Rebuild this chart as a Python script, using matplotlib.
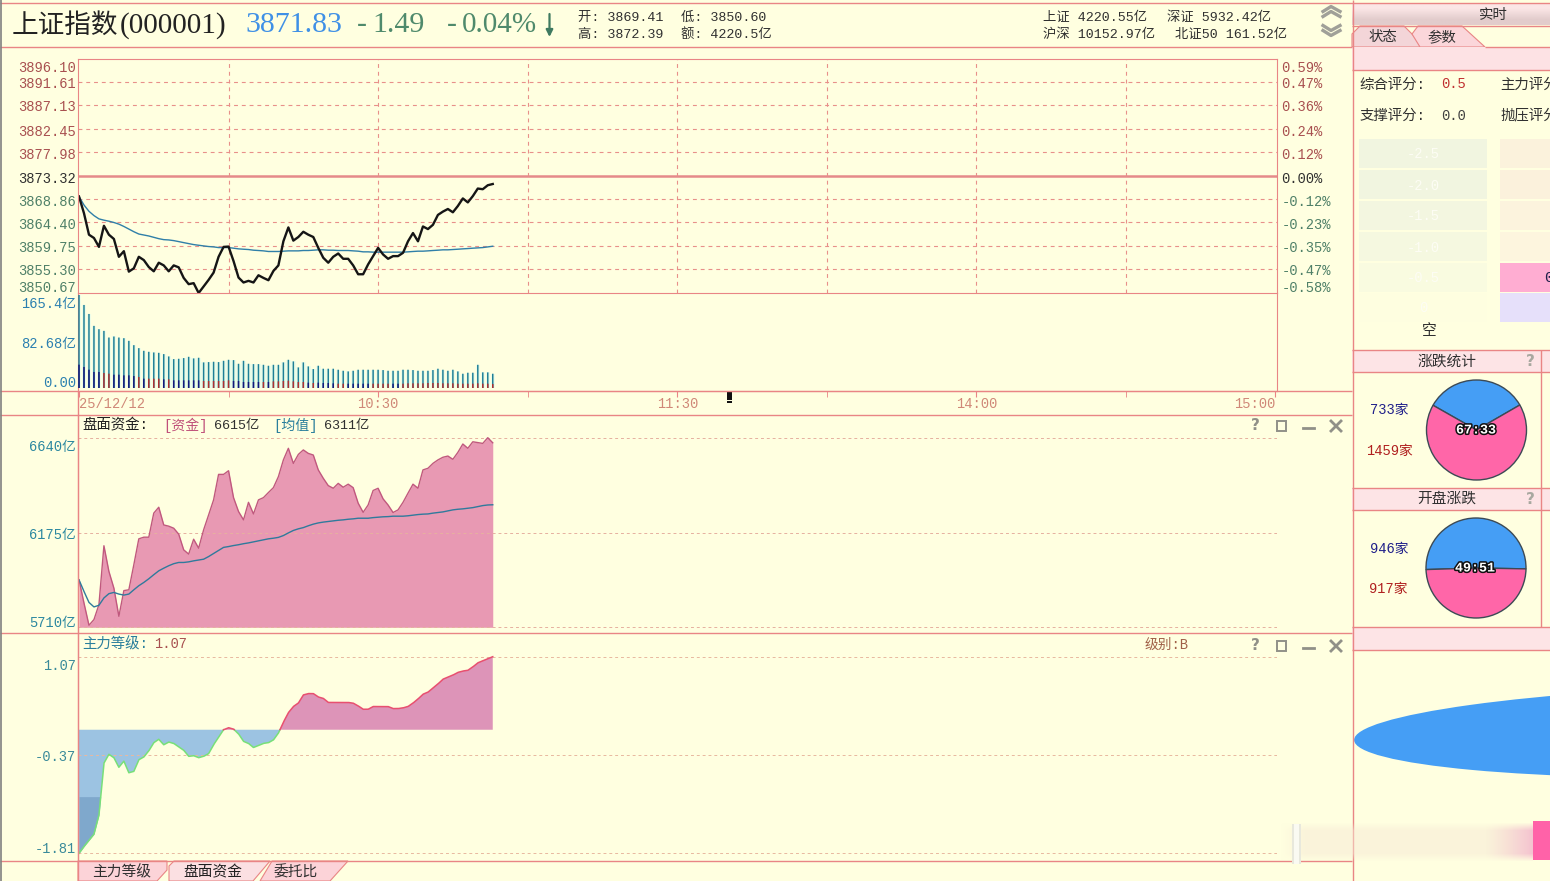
import numpy as np
import matplotlib
matplotlib.use("Agg")
import matplotlib.pyplot as plt
from matplotlib.patches import Rectangle, Polygon, Ellipse
from matplotlib.transforms import ScaledTranslation
import matplotlib.patheffects as pe

plt.rcParams['font.family'] = ['Liberation Mono', 'Noto Sans CJK SC', 'DejaVu Sans']
plt.rcParams['axes.unicode_minus'] = False

# ---------------- data ----------------
price = [3869.41,3866.15,3861.99,3861.35,3859.62,3863.72,3861.99,3861.16,3857.70,3858.79,
         3854.82,3855.46,3857.70,3857.06,3855.71,3854.88,3856.55,3856.03,3854.88,3856.03,
         3855.65,3853.60,3852.39,3852.58,3850.67,3851.94,3853.22,3854.63,3857.70,3859.62,
         3859.68,3856.87,3853.67,3852.71,3853.03,3852.71,3854.11,3853.60,3853.15,3854.95,
         3856.03,3860.71,3863.40,3860.84,3861.54,3862.56,3861.99,3861.54,3859.43,3857.51,
         3856.55,3857.70,3858.34,3857.31,3857.31,3856.03,3854.31,3854.31,3856.23,3857.83,
         3859.43,3858.15,3857.31,3857.83,3857.83,3858.47,3860.71,3862.31,3860.71,3863.59,
         3863.08,3863.91,3865.83,3866.47,3866.98,3866.34,3867.56,3869.03,3868.26,3869.48,
         3870.95,3870.82,3871.59,3871.83]
price_avg = [3869.41,3867.75,3866.53,3865.70,3865.06,3864.81,3864.61,3864.36,3864.04,3863.59,
             3863.08,3862.57,3862.12,3861.93,3861.74,3861.48,3861.22,3861.03,3860.97,3860.84,
             3860.65,3860.45,3860.26,3860.07,3859.94,3859.81,3859.69,3859.62,3859.49,3859.49,
             3859.49,3859.37,3859.24,3859.17,3859.11,3858.98,3858.92,3858.85,3858.73,3858.73,
             3858.73,3858.79,3858.85,3858.85,3858.85,3858.92,3858.92,3858.98,3859.05,3859.05,
             3858.98,3858.98,3858.92,3858.92,3858.92,3858.85,3858.79,3858.66,3858.66,3858.60,
             3858.60,3858.60,3858.60,3858.60,3858.60,3858.60,3858.66,3858.73,3858.79,3858.79,
             3858.85,3858.92,3858.98,3859.05,3859.05,3859.11,3859.17,3859.24,3859.30,3859.37,
             3859.43,3859.49,3859.62,3859.75]
volume = [165.4,147.7,131.7,110.5,104.6,101.6,89.8,91.6,89.8,88.6,83.9,76.2,70.9,66.2,64.4,63.2,
          62.6,60.3,56.1,51.4,52.0,53.2,55.5,52.6,53.8,45.5,46.1,46.7,46.1,48.4,50.2,49.6,43.1,
          48.4,43.1,42.5,42.5,41.3,39.6,41.3,41.3,45.5,50.2,47.3,36.6,45.5,38.4,33.7,39.6,34.3,
          34.3,34.3,32.5,30.7,29.5,30.7,32.5,32.5,32.5,32.5,32.5,31.9,30.7,30.7,30.7,32.5,32.5,
          31.9,30.7,30.7,30.7,31.9,34.3,32.5,30.7,32.5,29.5,25.4,27.2,27.2,41.3,27.8,27.8,25.4]
volume_low = [41.5,37.4,32.6,28.5,28.5,26.7,25.5,23.7,23.7,22.5,22.5,21.3,19.6,16.6,16.6,16.6,
              16.6,15.4,15.4,13.6,13.6,13.6,13.6,13.6,13.6,12.5,12.5,12.5,12.5,12.5,13.6,12.5,
              12.5,10.7,10.7,10.7,10.7,10.7,10.7,11.8,11.8,12.5,13.0,11.8,10.7,10.7,9.5,8.9,9.5,
              8.9,8.9,8.3,7.7,7.7,7.7,7.7,7.7,7.7,7.7,7.7,7.7,7.7,7.7,7.7,7.7,7.7,8.3,8.3,8.3,8.3,
              8.9,8.9,8.9,8.3,8.3,8.3,7.7,7.7,7.7,7.7,8.3,7.7,7.7,7.1]
volume_low_up = [0,0,0,0,0,1,1,0,0,0,0,0,1,0,1,1,1,0,1,0,0,0,0,0,0,1,1,1,1,1,1,0,0,0,0,0,0,1,0,1,
                 1,1,1,1,1,1,0,1,0,0,0,0,1,1,0,0,0,0,0,1,1,1,1,0,0,1,1,1,1,1,1,1,1,1,1,1,1,1,1,1,
                 1,1,1,1]
funds = [5943,5829,5720,5748,5821,6110,5984,5902,5764,5890,5894,6017,6144,6152,6152,6270,6299,
         6212,6206,6196,6167,6090,6069,6142,6098,6188,6261,6335,6460,6460,6478,6346,6278,6237,
         6323,6266,6335,6346,6371,6395,6449,6531,6588,6514,6558,6580,6563,6555,6482,6441,6405,
         6392,6416,6397,6412,6395,6319,6274,6310,6381,6392,6340,6310,6273,6286,6323,6368,6412,
         6392,6482,6490,6514,6531,6544,6550,6534,6568,6609,6588,6620,6616,6612,6640,6615]
funds_avg = [5943,5886,5832,5810,5818,5854,5875,5881,5873,5868,5873,5894,5914,5930,5948,5968,
             5987,6000,6012,6022,6028,6028,6031,6036,6040,6044,6057,6072,6087,6102,6106,6111,
             6115,6120,6124,6129,6134,6139,6144,6147,6151,6160,6173,6185,6193,6199,6208,6216,
             6222,6226,6229,6232,6235,6237,6240,6242,6245,6245,6245,6248,6250,6252,6253,6255,
             6255,6255,6257,6260,6263,6265,6266,6270,6273,6276,6281,6286,6289,6291,6294,6297,
             6302,6307,6310,6311]
level = [-1.81,-1.71,-1.62,-1.53,-1.25,-0.49,-0.36,-0.41,-0.55,-0.46,-0.63,-0.61,-0.44,-0.40,
         -0.31,-0.19,-0.14,-0.22,-0.18,-0.20,-0.25,-0.30,-0.39,-0.38,-0.41,-0.39,-0.35,-0.22,
         -0.11,-0.00,0.03,0.01,-0.06,-0.17,-0.20,-0.26,-0.23,-0.20,-0.19,-0.15,-0.05,0.11,0.25,
         0.34,0.39,0.51,0.53,0.53,0.48,0.46,0.40,0.40,0.40,0.40,0.40,0.39,0.35,0.30,0.30,0.34,
         0.34,0.34,0.34,0.31,0.31,0.32,0.34,0.39,0.45,0.52,0.55,0.61,0.67,0.74,0.77,0.80,0.84,
         0.86,0.87,0.92,0.98,1.01,1.04,1.07]
level_band = -0.98

price_ticks = [3896.10,3891.61,3887.13,3882.45,3877.98,3873.32,3868.86,3864.40,3859.75,3855.30,3850.67]
pct_labels = ['0.59%','0.47%','0.36%','0.24%','0.12%','0.00%','-0.12%','-0.23%','-0.35%','-0.47%','-0.58%']
vol_ticks = [0.0,82.68,165.4]
vol_labels = ['0.00','82.68亿','165.4亿']
fund_ticks = [5710,6175,6640]
fund_labels = ['5710亿','6175亿','6640亿']
level_ticks = [-1.81,-0.37,1.07]
level_labels = ['-1.81','-0.37','1.07']
time_ticks = [0,60,120,180,240]
time_labels = ['25/12/12','10:30','11:30','14:00','15:00']
adv_dec = [733,1459]
open_adv_dec = [946,917]

# ---------------- layout helpers ----------------
W, H = 1550, 881
BG = '#ffffe0'
LINE = '#e98585'
fig = plt.figure(figsize=(W/100, H/100), dpi=100, facecolor=BG)

def px_axes(l, t, r, b, z=2):
    a = fig.add_axes([l/W, 1-b/H, (r-l)/W, (b-t)/H], zorder=z)
    a.patch.set_visible(False)
    return a

def ylim_from(v1, y1, v2, y2, top, bottom):
    k = (v1-v2)/(y2-y1)
    return v2-(bottom-y2)*k, v1+(y1-top)*k

X0, X1 = 78, 1277
xs = np.arange(len(price))
xlim = ((X0-79)/4.985, (X1-79)/4.985)
RED, GRN = '#a85050', '#4f8068'
FS = 9.9
SHIFT = ScaledTranslation(0, -1.6/72, fig.dpi_scale_trans)

def shift_labels(a, which='y'):
    labels = a.get_yticklabels() if which == 'y' else a.get_xticklabels()
    for t in labels:
        t.set_transform(t.get_transform()+SHIFT)

def style(a, ticks, labels, cols, vas=None, spines=()):
    a.set_xlim(*xlim)
    for s in a.spines:
        a.spines[s].set_visible(s in spines)
        a.spines[s].set_color(LINE)
    a.set_xticks([])
    a.set_yticks(ticks)
    a.set_yticklabels(labels, fontsize=FS)
    a.tick_params(axis='y', length=0, pad=1.5)
    for i, t in enumerate(a.get_yticklabels()):
        t.set_color(cols[i])
        if vas:
            t.set_va(vas[i])
    shift_labels(a)

# ---------------- price panel ----------------
ax = px_axes(X0, 59, X1, 293)
ax.set_ylim(*ylim_from(price_ticks[0], 58.6, price_ticks[-1], 293, 59, 293))
cols = [RED]*5+['#303030']+[GRN]*5
style(ax, price_ticks, ['%.2f' % v for v in price_ticks], cols,
      ['top']+['center']*9+['bottom'], ('left','right','top','bottom'))
ax.hlines(price_ticks[1:5]+price_ticks[6:10], *xlim, color='#e8908a', lw=0.8, linestyles=(0,(3.5,3.5)))
ax.axhline(price_ticks[5], color='#e58a8a', lw=1.8)
ax.vlines([30,60,90,120,150,180,210], ax.get_ylim()[0], ax.get_ylim()[1], color='#e8908a', lw=0.8, linestyles=(0,(3.5,3.5)))
ax.plot(xs, price_avg, color='#2f7fa8', lw=1.0)
ax.plot(xs, price, color='#151515', lw=1.7, clip_on=True)
axr = ax.twinx()
axr.patch.set_visible(False)
axr.set_ylim(ax.get_ylim())
for s in axr.spines:
    axr.spines[s].set_visible(False)
axr.set_yticks(price_ticks)
axr.set_yticklabels(pct_labels, fontsize=FS)
axr.tick_params(axis='y', length=0, pad=3.2)
for i, t in enumerate(axr.get_yticklabels()):
    t.set_color(cols[i])
    t.set_va((['top']+['center']*9+['bottom'])[i])
shift_labels(axr)

# ---------------- volume panel ----------------
av = px_axes(X0, 293, X1, 391)
k = 165.4/93
av.set_ylim(-3*k, 165.4+2*k)
style(av, vol_ticks, vol_labels, ['#2c80b0']*3, ['bottom','center','top'], ('left','right','bottom'))
vl = np.array(volume); vo = np.array(volume_low); up = np.array(volume_low_up, bool)
av.bar(xs, vl, width=0.9, color='#ecfce8', linewidth=0, zorder=1.5)
for arr, mask, col, z in [(vl, np.ones_like(up), '#1f7f96', 3), (vo, ~up, '#16167a', 3.1), (vo, up, '#b03030', 3.1)]:
    bc = av.bar(xs[mask.astype(bool)], arr[mask.astype(bool)], width=0.3, color=col, linewidth=0, zorder=z)
    for r in bc:
        r.set_snap(False)
av.set_xticks([30,90,150,210], minor=True)
av.tick_params(axis='x', which='minor', length=4, color=LINE, direction='out')
av.set_xticks(time_ticks)
av.set_xticklabels(time_labels, fontsize=FS, color='#d08878')
av.tick_params(axis='x', which='major', length=4, color=LINE, pad=0)
lbls = av.get_xticklabels()
lbls[0].set_ha('left'); lbls[-1].set_ha('right')

# ---------------- funds panel ----------------
af = px_axes(X0, 415, X1, 633)
af.set_ylim(*ylim_from(6640, 437.7, 5710, 627.3, 415, 633))
style(af, fund_ticks, fund_labels, ['#2c88a0']*3, ['bottom','center','top'], ('left',))
af.fill_between(xs, funds, 5710, color='#e899b3', lw=0, zorder=1)
af.hlines(fund_ticks, *xlim, color='#e6b0a0', lw=0.7, linestyles=(0,(3,3)), zorder=1.5)
af.plot(xs, funds, color='#c0587e', lw=1.0)
af.plot(xs, funds_avg, color='#2f7a9c', lw=1.0)

# ---------------- level panel ----------------
al = px_axes(X0, 633, X1, 860)
al.set_ylim(*ylim_from(1.07, 656.7, -1.81, 853.3, 633, 860))
style(al, level_ticks, level_labels, ['#3a8a9a']*3, ['bottom','center','top'], ('left',))
al.hlines(level_ticks, *xlim, color='#e8b8a0', lw=0.7, linestyles=(0,(3,3)))
lv = np.array(level)
xf = np.linspace(0, xs[-1], 3321)
lf = np.interp(xf, xs, lv)
al.fill_between(xf, lf, 0, where=lf < 0, color='#9cc3e2', lw=0)
al.fill_between(xf, lf, 0, where=lf > 0, color='#dd94b8', lw=0)
al.fill_between(xf, lf, level_band, where=lf < level_band, color='#7fa8cc', lw=0)
al.plot(xf, np.where(lf <= 0, lf, np.nan), color='#78e078', lw=1.1)
al.plot(xf, np.where(lf >= 0, lf, np.nan), color='#e85070', lw=1.1)

# ---------------- pies ----------------
def pie(cx, cy, r, vals, start):
    a = px_axes(cx-r-1, cy-r-1, cx+r+1, cy+r+1, z=3)
    a.pie(vals, colors=['#459ef5', '#ff66a8'], startangle=start, radius=1.0,
          wedgeprops=dict(edgecolor='#3c4a55', linewidth=1.0))
    a.set_xlim(-1.02, 1.02); a.set_ylim(-1.02, 1.02)
    return a
pie(1476.5, 430, 50, adv_dec, 30)
pie(1476, 568, 50, open_adv_dec, -1)

# ---------------- interface overlay ----------------
ui = fig.add_axes([0, 0, 1, 1], zorder=5)
ui.patch.set_visible(False)
ui.axis('off')

def grad(x0, y0, x1, y1, c0, c1):
    a = np.array([matplotlib.colors.to_rgb(c0), matplotlib.colors.to_rgb(c1)]).reshape(2, 1, 3)
    ui.imshow(a, extent=(x0, x1, y1, y0), aspect='auto', interpolation='bilinear', zorder=0)

def T(x, y, s, c='#202020', fs=FS, ha='left', **kw):
    return ui.text(x, y+1.5, s, color=c, fontsize=fs, ha=ha, va='center', clip_on=True, **kw)

def hline(y, x0=0, x1=W, c=LINE, lw=1.0):
    ui.plot([x0, x1], [y, y], color=c, lw=lw, solid_capstyle='butt')

def vline(x, y0, y1, c=LINE, lw=1.0):
    ui.plot([x, x], [y0, y1], color=c, lw=lw, solid_capstyle='butt')

# sidebar bands
grad(1352, 3, W, 25, '#fbe6e6', '#e2cccc')
ui.add_patch(Polygon([(1352, 47), (1352, 34), (1360, 26), (1404, 26), (1425, 47)], fc='#f3d5d8', ec=LINE, lw=0.8))
ui.add_patch(Polygon([(1420, 47), (1412, 34), (1418, 26), (1462, 26), (1485, 47)], fc='#fbd6da', ec=LINE, lw=0.8))
ui.add_patch(Rectangle((1352, 47), 198, 23, fc='#fde2e4', ec='none'))
for y0, y1 in [(350, 372), (488, 510), (627, 650)]:
    ui.add_patch(Rectangle((1352, y0), 198, y1-y0, fc='#fde4e6', ec='none'))
    hline(y0, 1352); hline(y1, 1352)
# bottom tabs
ui.add_patch(Polygon([(78, 881), (78, 861), (167, 861), (167, 870), (157, 881)], fc='#fcd3d8', ec=LINE, lw=0.8))
ui.add_patch(Polygon([(260, 881), (272, 861), (348, 861), (330, 881)], fc='#fcd3d8', ec=LINE, lw=0.8))
ui.add_patch(Polygon([(169, 881), (169, 866), (174, 861), (270, 861), (253, 881)], fc='#fbe0e2', ec=LINE, lw=0.8))

# frame lines
hline(2.5); hline(46.5, 0, 1352); hline(391, 0, 1352); hline(414.5, 0, 1352); hline(633, 0, 1352); hline(860.5, 0, 1352)
hline(25.5, 1352); hline(47, 1485); hline(70, 1352)
vline(1.2, 0, H, c='#808080', lw=1.2)
vline(78.3, 391, H); vline(1352.5, 0, H)
vline(1541, 350, 627)

# header
T(12, 24, '上证指数', '#222222', 19.2, family=['Noto Sans CJK SC'])
T(120, 24, '(000001)', '#222222', 21, family=['Liberation Serif'])
T(245, 24, '3871.83', '#3f90e6', 21.5, family=['Liberation Serif'])
T(357, 24, '-', '#4f8a6c', 21.5, family=['Liberation Serif'])
T(372, 24, '1.49', '#4f8a6c', 21.5, family=['Liberation Serif'])
T(447, 24, '-', '#4f8a6c', 21.5, family=['Liberation Serif'])
T(462, 24, '0.04%', '#4f8a6c', 21, family=['Liberation Serif'])
ui.annotate('', xy=(549.5, 37), xytext=(549.5, 14), arrowprops=dict(arrowstyle='-|>', color='#3f7a60', lw=1.6, shrinkA=0, shrinkB=0, mutation_scale=10))
HF = 9.6
for x, y, s in [(578, 16, '开: 3869.41'), (681, 16, '低: 3850.60'), (578, 33, '高: 3872.39'), (681, 33, '额: 4220.5亿'),
                (1043, 16, '上证 4220.55亿'), (1167, 16, '深证 5932.42亿'), (1043, 33, '沪深 10152.97亿'), (1175, 33, '北证50 161.52亿')]:
    T(x, y, s, '#303030', HF)
for y in (9, 14, 28, 33):
    d = 1 if y < 20 else -1
    ui.plot([1323, 1331, 1340], [y+2.5*d, y-2.5*d, y+2.5*d], color='#a0a098', lw=2.4)

# panel headers
T(82, 424, '盘面资金:', '#202020', 10.4)
T(163, 424, '[资金]', '#c0507a', 10)
T(214, 424, '6615亿', '#303030', 9.6)
T(273, 424, '[均值]', '#2a7f9c', 10)
T(324, 424, '6311亿', '#303030', 9.6)
T(82, 643, '主力等级:', '#2a7f9c', 10.4)
T(154, 643, '1.07', '#a85050', 9.9)
T(1145, 643, '级别:B', '#a06048', 9.9)
# panel icons
for yc in (426, 646):
    T(1255, yc-1.5, '?', '#909088', 11, ha='center', fontweight='bold', family=['DejaVu Sans'])
    ui.add_patch(Rectangle((1276.5, yc-5), 9.5, 10, fc='none', ec='#909088', lw=1.4))
    ui.plot([1303, 1314], [yc+2, yc+2], color='#909088', lw=2)
    ui.plot([1331, 1341], [yc-5, yc+5], color='#909088', lw=2)
    ui.plot([1331, 1341], [yc+5, yc-5], color='#909088', lw=2)

# time axis marker
ui.add_patch(Rectangle((726.5, 392), 5, 8, fc='#101010', ec='none'))
ui.add_patch(Rectangle((726.5, 401), 5, 1.5, fc='#101010', ec='none'))

# tabs text
T(122, 871, '主力等级', '#303030', 10.6, ha='center')
T(213, 871, '盘面资金', '#202020', 10.6, ha='center')
T(296, 871, '委托比', '#303030', 10.6, ha='center')

# sidebar text
T(1493, 13, '实时', '#303030', 10.4, ha='center')
T(1383, 36, '状态', '#303030', 10.4, ha='center')
T(1442, 36, '参数', '#303030', 10.4, ha='center')
T(1359, 83, '综合评分:', '#303030', 10.4)
T(1441, 83, '0.5', '#c03030', FS)
T(1500, 83, '主力评分', '#303030', 10.4)
T(1359, 114, '支撑评分:', '#303030', 10.4)
T(1441, 114, '0.0', '#404040', FS)
T(1500, 114, '抛压评分', '#303030', 10.4)

score_labels = ['-2.5', '-2.0', '-1.5', '-1.0', '-0.5', '0']
left_cols = ['#f1f5e0', '#f1f5e0', '#f3f6e0', '#f5f8e0', '#f9fbe0', '#fefee0']
right_cols = ['#fbf2dc', '#fbf1dc', '#fcf3dd', '#fdf5de', '#ffadd2', '#e6e0fa']
for i, (yc, lc, rc) in enumerate(zip([139, 170, 201, 232, 263, 293], left_cols, right_cols)):
    ui.add_patch(Rectangle((1359, yc), 128, 29, fc=lc, ec='none'))
    ui.add_patch(Rectangle((1500, yc), 52, 29, fc=rc, ec='none'))
    T(1423, yc+14, score_labels[i], '#fdfdf4', FS, ha='center')
T(1549, 277, '0', '#20204a', 11, ha='center')
T(1429, 330, '空', '#303030', 10.6, ha='center')

T(1447, 360, '涨跌统计', '#303030', 10.6, ha='center')
T(1447, 497, '开盘涨跌', '#303030', 10.6, ha='center')
for yc in (360, 498):
    T(1530, yc, '?', '#a8a8a0', 11, ha='center', fontweight='bold', family=['DejaVu Sans'])
T(1389, 408, '733家', '#20208a', FS, ha='center')
T(1389, 449, '1459家', '#b02020', FS, ha='center')
T(1389, 547, '946家', '#20208a', FS, ha='center')
T(1388, 587, '917家', '#b02020', FS, ha='center')
for x, y, s in [(1476, 429, '67:33'), (1475, 567, '49:51')]:
    T(x, y, s, 'white', 9.6, ha='center', fontweight='bold',
      path_effects=[pe.withStroke(linewidth=2.2, foreground='#101010')])

# large clipped pie at the lower right
ui.add_patch(Ellipse((1754, 731), 800, 92, angle=-1.3, fc='#459ef5', ec='none'))

# blurred mark at the lower right
n = 253
ramp = np.zeros((40, n, 4))
ramp[..., :3] = matplotlib.colors.to_rgb('#f6e8d4')
ramp[..., 3] = 0.5*np.clip(np.arange(n)/25, 0, 1)
env = np.clip(np.minimum(np.arange(40), np.arange(40)[::-1])/8, 0, 1)
ramp[..., 3] *= env[:, None]
end = np.clip((np.arange(n)-205)/48, 0, 1)
ramp[..., 0] = ramp[..., 0]*(1-end)+end*0.95
ramp[..., 1] = ramp[..., 1]*(1-end)+end*0.70
ramp[..., 2] = ramp[..., 2]*(1-end)+end*0.80
ramp[..., 3] = ramp[..., 3]*(1-end)+end*env[:, None]*0.8
ui.imshow(ramp, extent=(1280, 1533, 862, 822), aspect='auto', interpolation='bilinear', zorder=3)
ui.add_patch(Rectangle((1533, 821), 17, 39, fc='#ff62a8', ec='none', zorder=3))
ui.add_patch(Rectangle((1292, 824), 2, 40, fc='#e8e8dc', ec='none', zorder=3))
ui.add_patch(Rectangle((1294, 824), 5, 40, fc='#fafaf2', ec='none', zorder=3))
ui.add_patch(Rectangle((1299, 824), 2, 40, fc='#e8e8dc', ec='none', zorder=3))

ui.set_xlim(0, W)
ui.set_ylim(H, 0)

fig.savefig('out.png', dpi=100, facecolor=BG)
